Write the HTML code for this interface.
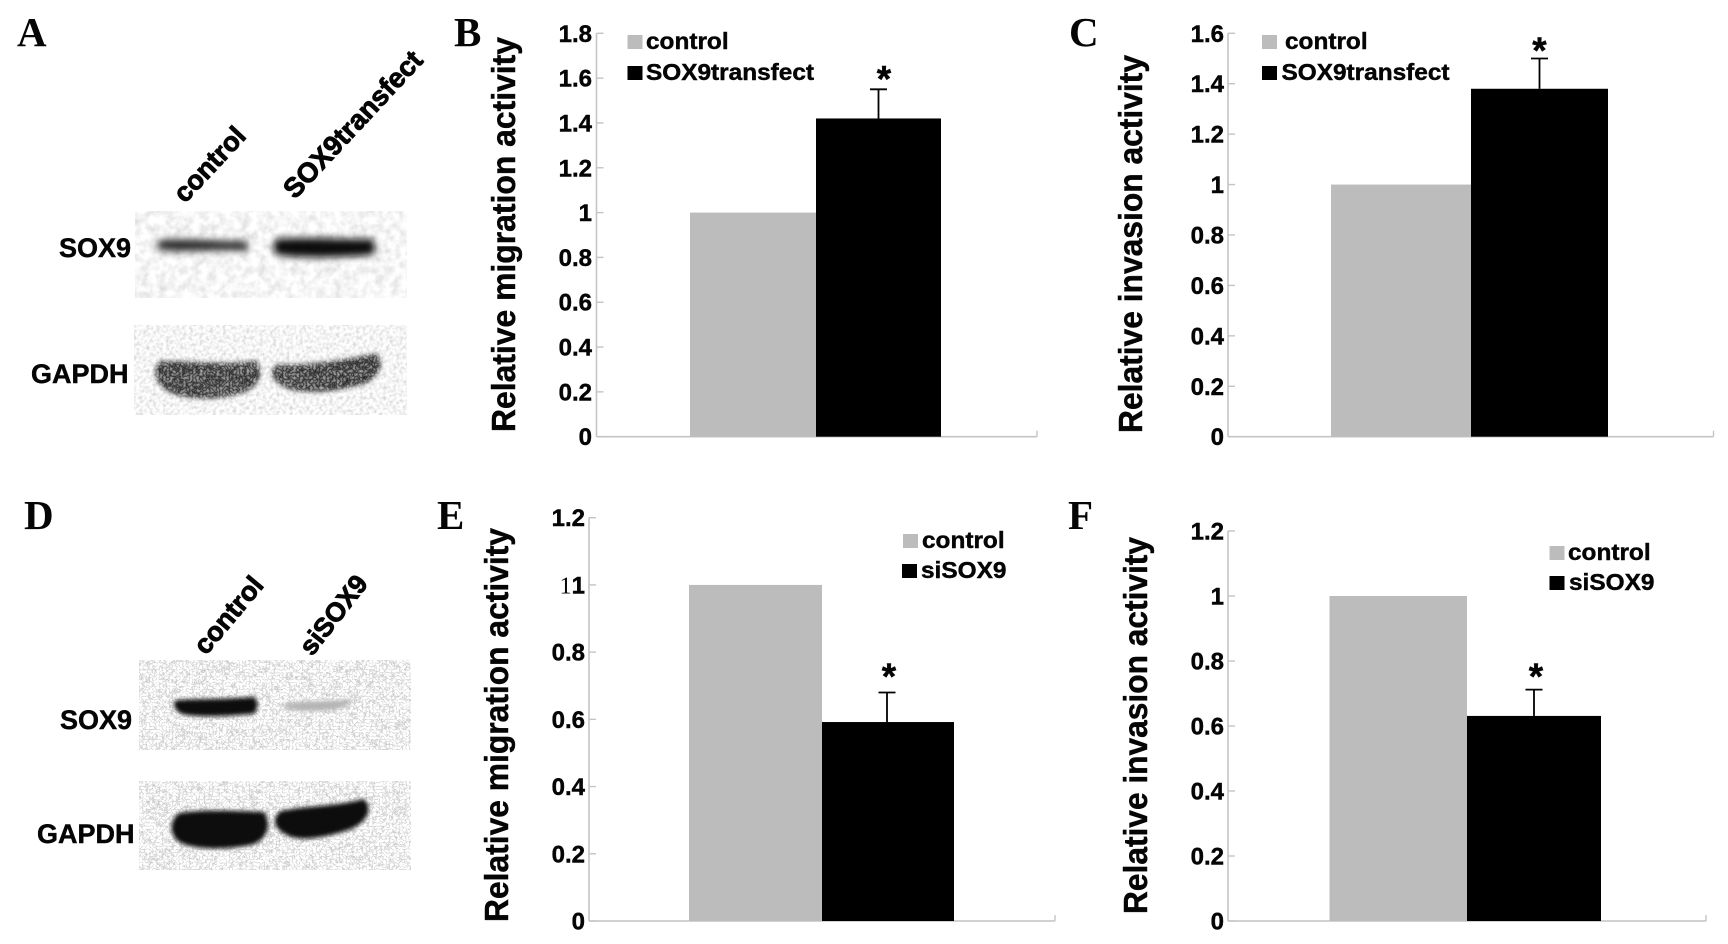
<!DOCTYPE html>
<html>
<head>
<meta charset="utf-8">
<title>SOX9 migration and invasion figure</title>
<style>
html,body{margin:0;padding:0;background:#fff;width:1728px;height:944px;overflow:hidden}
svg{display:block}
text{font-family:"Liberation Sans",sans-serif;font-weight:700;fill:#050505;stroke:#050505;stroke-width:.45px}
.letter{font-family:"Liberation Serif",serif;font-size:41px;stroke-width:0}
.blot-label{font-size:27px}
.lane{stroke-width:.9px}
</style>
</head>
<body>
<svg id="figure" xmlns="http://www.w3.org/2000/svg" width="1728" height="944" viewBox="0 0 1728 944">
<defs>
<filter id="grain-soft" x="0" y="0" width="100%" height="100%">
<feTurbulence type="fractalNoise" baseFrequency="0.12" numOctaves="3" seed="4"/>
<feColorMatrix type="matrix" values="0.5 0 0 0 0.67  0.5 0 0 0 0.67  0.5 0 0 0 0.67  0 0 0 0 1"/>
</filter>
<filter id="grain-dots" x="0" y="0" width="100%" height="100%">
<feTurbulence type="fractalNoise" baseFrequency="0.3" numOctaves="2" seed="9"/>
<feColorMatrix type="matrix" values="0.7 0 0 0 0.56  0.7 0 0 0 0.56  0.7 0 0 0 0.56  0 0 0 0 1"/>
</filter>
<filter id="grain-maze" x="0" y="0" width="100%" height="100%">
<feTurbulence type="turbulence" baseFrequency="0.3" numOctaves="2" seed="7"/>
<feColorMatrix type="matrix" values="1.7 0 0 0 0.5  1.7 0 0 0 0.5  1.7 0 0 0 0.5  0 0 0 0 1"/>
</filter>
<filter id="band-blur" x="-20%" y="-60%" width="140%" height="220%">
<feGaussianBlur stdDeviation="2.2"/>
</filter>
<filter id="band-blur-wide" x="-20%" y="-80%" width="140%" height="260%">
<feGaussianBlur stdDeviation="3.6"/>
</filter>
<filter id="band-textured" x="-10%" y="-25%" width="120%" height="150%">
<feGaussianBlur in="SourceGraphic" stdDeviation="2.4" result="shape"/>
<feTurbulence type="turbulence" baseFrequency="0.3" numOctaves="1" seed="3" result="noise"/>
<feColorMatrix in="noise" type="matrix" values="0.6 0 0 0 0.02  0.6 0 0 0 0.02  0.6 0 0 0 0.02  0 0 0 0 1" result="tone"/>
<feComposite in="tone" in2="shape" operator="in"/>
</filter>
</defs>

<g id="panel-a">
<text class="letter" x="17" y="46">A</text>
<text class="lane" x="185" y="204" font-size="27" transform="rotate(-47 185 204)">control</text>
<text class="lane" x="295" y="200" font-size="27.5" transform="rotate(-47 295 200)">SOX9transfect</text>
<text class="blot-label" x="59" y="257">SOX9</text>
<text class="blot-label" x="31" y="383">GAPDH</text>
<g>
<rect x="135" y="211" width="272" height="87" filter="url(#grain-soft)"/>
<path d="M160 240 C190 238 225 242 246 241 C249 245 248 250 245 251 C220 249 185 253 160 250 C156 247 156 243 160 240Z" fill="#2a2a2a" filter="url(#band-blur-wide)"/>
<path d="M277 239 C310 237 345 240 372 239 C376 244 376 252 372 255 C340 257 310 259 278 255 C272 250 272 244 277 239Z" fill="#0c0c0c" filter="url(#band-blur-wide)"/>
</g>
<g>
<rect x="134" y="325" width="273" height="90" filter="url(#grain-dots)"/>
<path d="M160 361 C190 360 225 366 256 360 C264 369 262 384 246 392 C220 401 185 401 167 391 C153 381 152 369 160 361Z" fill="#000" filter="url(#band-textured)"/>
<path d="M277 364 C305 366 345 360 377 353 C384 363 382 376 364 384 C335 393 298 395 284 387 C270 380 269 371 277 364Z" fill="#000" filter="url(#band-textured)"/>
</g>
</g>

<g id="panel-d">
<text class="letter" x="24" y="529">D</text>
<text class="lane" x="206" y="656" font-size="27" transform="rotate(-50 206 656)">control</text>
<text class="lane" x="312" y="657" font-size="26.5" transform="rotate(-52 312 657)">siSOX9</text>
<text class="blot-label" x="60" y="729">SOX9</text>
<text class="blot-label" x="37" y="843">GAPDH</text>
<g>
<rect x="139" y="660" width="272" height="90" filter="url(#grain-maze)"/>
<path d="M176 700 C200 699 235 699 255 697 C259 704 258 712 252 714 C225 716 200 718 182 714 C174 710 172 704 176 700Z" fill="#0a0a0a" filter="url(#band-blur)"/>
<path d="M284 704 C305 700 335 702 350 699 C352 703 345 709 330 710 C310 712 295 711 284 708Z" fill="#b4b4b4" filter="url(#band-blur)"/>
</g>
<g>
<rect x="139" y="781" width="272" height="89" filter="url(#grain-maze)"/>
<path d="M179 813 C205 809 240 811 264 812 C272 824 268 840 251 845 C225 850 194 850 179 842 C168 833 170 820 179 813Z" fill="#0a0a0a" filter="url(#band-blur)"/>
<path d="M281 811 C305 806 340 806 363 799 C373 805 370 821 351 829 C325 838 299 842 287 835 C272 828 272 817 281 811Z" fill="#0a0a0a" filter="url(#band-blur)"/>
</g>
</g>

<text class="letter" x="454" y="46">B</text>
<text class="letter" x="1069" y="46">C</text>
<text class="letter" x="437" y="529">E</text>
<text class="letter" x="1068" y="529">F</text>
<g id="charts"></g>
</svg>

<script>
const categories = ['control', 'treated'];

const panelBTicks = [0, 0.2, 0.4, 0.6, 0.8, 1, 1.2, 1.4, 1.6, 1.8];
const panelBTickLabels = ['0', '0.2', '0.4', '0.6', '0.8', '1', '1.2', '1.4', '1.6', '1.8'];
const panelBValues = [1, 1.42];
const panelBError = [0.13];
const panelBLegend = ['control', 'SOX9transfect'];

const panelCTicks = [0, 0.2, 0.4, 0.6, 0.8, 1, 1.2, 1.4, 1.6];
const panelCTickLabels = ['0', '0.2', '0.4', '0.6', '0.8', '1', '1.2', '1.4', '1.6'];
const panelCValues = [1, 1.38];
const panelCError = [0.12];
const panelCLegend = ['control', 'SOX9transfect'];

const panelETicks = [0, 0.2, 0.4, 0.6, 0.8, 1, 1.2];
const panelETickLabels = ['0', '0.2', '0.4', '0.6', '0.8', '11', '1.2'];
const panelEValues = [1, 0.592];
const panelEError = [0.088];
const panelELegend = ['control', 'siSOX9'];

const panelFTicks = [0, 0.2, 0.4, 0.6, 0.8, 1, 1.2];
const panelFTickLabels = ['0', '0.2', '0.4', '0.6', '0.8', '1', '1.2'];
const panelFValues = [1, 0.631];
const panelFError = [0.081];
const panelFLegend = ['control', 'siSOX9'];

const NS = 'http://www.w3.org/2000/svg';
const chartsRoot = document.getElementById('charts');

function make(tag, attrs, parent) {
  const el = document.createElementNS(NS, tag);
  for (const k in attrs) el.setAttribute(k, attrs[k]);
  parent.appendChild(el);
  return el;
}

function widen(el, factor) {
  el.setAttribute('textLength', (el.getComputedTextLength() * factor).toFixed(1));
  el.setAttribute('lengthAdjust', 'spacingAndGlyphs');
}

function drawChart(c) {
  const g = make('g', {}, chartsRoot);
  
  

  const maxTick = Math.max(...c.ticks);
  const y = v => c.base - (v / maxTick) * (c.base - c.top);
  const x = i => c.bars[i];

  const yAxis = make('line', { x1: c.axisX, x2: c.axisX, y1: c.top, y2: c.base, stroke: '#c4c4c4', 'stroke-width': 1.6 }, g);
  
  

  const xAxis = make('line', { x1: c.axisX, x2: c.axisEnd, y1: c.base, y2: c.base, stroke: '#c4c4c4', 'stroke-width': 1.6 }, g);
  
  

  const endTick = make('line', { x1: c.axisEnd, x2: c.axisEnd, y1: c.base - 6, y2: c.base, stroke: '#c4c4c4', 'stroke-width': 1.4 }, g);
  
  

  c.ticks.forEach((t, i) => {
    const tick = make('line', { x1: c.axisX, x2: c.axisX + 7, y1: y(t), y2: y(t), stroke: '#c4c4c4', 'stroke-width': 1.4 }, g);
    
    
    const raw = c.tickLabels[i];
    const doubled = raw === '11';
    const label = make('text', { x: c.labelX, y: y(t) + 8.5, 'text-anchor': 'end', 'font-size': 24 }, g);
    
    
    if (doubled) {
      const thin = make('tspan', { 'font-family': 'Liberation Serif, serif', 'font-weight': 400, 'stroke-width': 0 }, label);
      thin.textContent = '1';
      const bold = make('tspan', {}, label);
      bold.textContent = '1';
    } else {
      label.textContent = raw;
    }
  });

  const title = make('text', { transform: 'translate(' + c.titleX + ' ' + c.titleBottom + ') rotate(-90)', 'font-size': 33, 'stroke-width': 0.7, textLength: c.titleLength, lengthAdjust: 'spacingAndGlyphs' }, g);
  
  
  title.textContent = c.title;

  const controlBar = make('rect', { x: x(0), y: y(c.values[0]), width: x(1) - x(0), height: c.base - y(c.values[0]), fill: '#bcbcbc' }, g);
  
  

  const treatedBar = make('rect', { x: x(1), y: y(c.values[1]), width: x(2) - x(1), height: c.base - y(c.values[1]), fill: '#000' }, g);
  
  

  const errTop = y(c.values[1] + c.error[0]);
  const errStem = make('line', { x1: c.errX, x2: c.errX, y1: y(c.values[1]), y2: errTop, stroke: '#000', 'stroke-width': 1.8 }, g);
  
  

  const errCap = make('line', { x1: c.errX - 8.5, x2: c.errX + 8.5, y1: errTop, y2: errTop, stroke: '#000', 'stroke-width': 1.8 }, g);
  
  

  const star = make('text', { x: c.starX, y: errTop + c.starDy, 'text-anchor': 'middle', 'font-size': 37, 'stroke-width': 0.2 }, g);
  
  
  star.textContent = '*';

  c.legend.forEach((name, i) => {
    const row = c.legendRows[i];
    const swatch = make('rect', { x: row.sx, y: row.baseline - 14, width: 15, height: 14, fill: i === 0 ? '#bcbcbc' : '#000' }, g);
    
    
    const text = make('text', { x: row.tx, y: row.baseline, 'font-size': 23 }, g);
    
    
    text.textContent = name;
    widen(text, 1.06);
  });
}

drawChart({
  id: 'panel-b', title: 'Relative migration activity', ticks: panelBTicks, tickLabels: panelBTickLabels,
  values: panelBValues, error: panelBError, legend: panelBLegend,
  axisX: 596.5, axisEnd: 1037, base: 436.7, top: 33.3, labelX: 592,
  bars: [690, 816, 941], errX: 878.5, starX: 884, starDy: 2.2, titleX: 515, titleBottom: 432, titleLength: 395,
  legendRows: [{ sx: 627.5, tx: 646, baseline: 49 }, { sx: 627.5, tx: 646, baseline: 80 }]
});
drawChart({
  id: 'panel-c', title: 'Relative invasion activity', ticks: panelCTicks, tickLabels: panelCTickLabels,
  values: panelCValues, error: panelCError, legend: panelCLegend,
  axisX: 1228, axisEnd: 1713.5, base: 436.7, top: 33.3, labelX: 1224,
  bars: [1331, 1471, 1608], errX: 1539.5, starX: 1539.5, starDy: 4.6, titleX: 1142, titleBottom: 433, titleLength: 378,
  legendRows: [{ sx: 1262, tx: 1285, baseline: 49 }, { sx: 1262, tx: 1281.5, baseline: 80 }]
});
drawChart({
  id: 'panel-e', title: 'Relative migration activity', ticks: panelETicks, tickLabels: panelETickLabels,
  values: panelEValues, error: panelEError, legend: panelELegend,
  axisX: 589, axisEnd: 1055, base: 921, top: 517.7, labelX: 585,
  bars: [689, 822, 954], errX: 887, starX: 889, starDy: -3.4, titleX: 508, titleBottom: 922, titleLength: 394,
  legendRows: [{ sx: 903, tx: 922, baseline: 548 }, { sx: 902, tx: 921, baseline: 578 }]
});
drawChart({
  id: 'panel-f', title: 'Relative invasion activity', ticks: panelFTicks, tickLabels: panelFTickLabels,
  values: panelFValues, error: panelFError, legend: panelFLegend,
  axisX: 1228, axisEnd: 1706, base: 921, top: 531, labelX: 1224,
  bars: [1329.5, 1467, 1601], errX: 1534, starX: 1536, starDy: -0.4, titleX: 1147, titleBottom: 914, titleLength: 377,
  legendRows: [{ sx: 1549.5, tx: 1568, baseline: 560 }, { sx: 1549.5, tx: 1569, baseline: 590 }]
});
</script>
</body>
</html>
